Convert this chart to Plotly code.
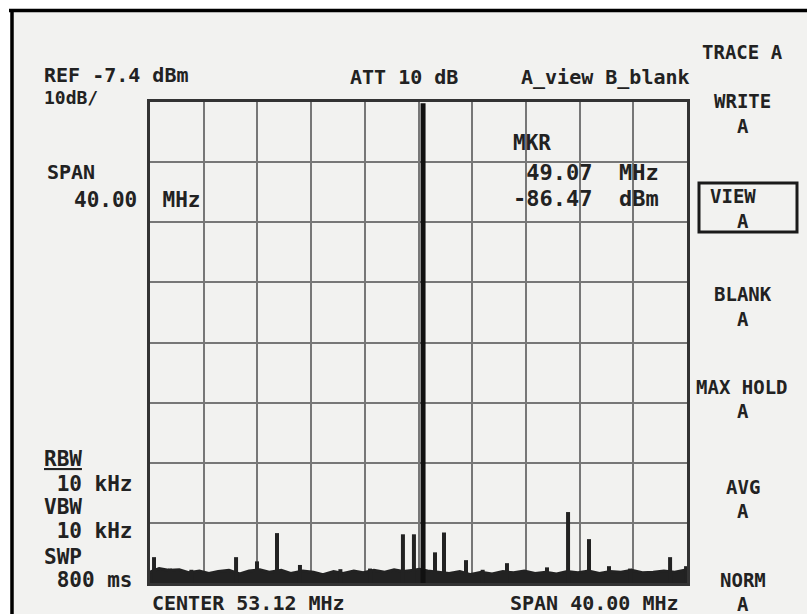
import plotly.graph_objects as go

# ---------------- data ----------------
REF_DBM = -7.4
DB_PER_DIV = 10
N_VDIV = 8
CENTER_MHZ = 53.12
SPAN_MHZ = 40.0

floor_mhz = [33.12, 33.8, 34.6, 35.3, 36.0, 36.8, 37.5, 38.2, 39.0, 39.8, 40.5, 41.3, 42.0,
             42.9, 43.6, 44.5, 45.3, 46.0, 46.8, 47.5, 48.3, 49.0, 49.8, 50.6, 51.3, 52.0,
             52.6, 53.2, 53.8, 54.6, 55.4, 56.2, 57.0, 57.8, 58.6, 59.4, 60.2, 61.0, 61.8,
             62.6, 63.4, 64.2, 65.0, 65.8, 66.6, 67.4, 68.2, 69.0, 69.8, 70.6, 71.4, 72.2, 73.12]
floor_dbm = [-85.6, -85.0, -85.3, -85.2, -85.7, -85.4, -85.8, -85.5, -85.3, -85.9, -85.4, -85.2,
             -85.6, -85.3, -85.8, -85.4, -85.6, -86.0, -85.5, -85.8, -85.4, -85.7, -85.3, -85.6,
             -85.2, -85.5, -85.3, -85.1, -85.4, -85.6, -85.8, -85.5, -86.0, -85.6, -85.9, -85.5,
             -85.7, -85.4, -85.8, -85.6, -85.9, -85.5, -85.7, -85.4, -85.8, -85.5, -85.6, -85.3,
             -85.7, -85.6, -85.4, -85.6, -85.2]

spur_mhz = [33.42, 34.61, 36.2, 39.53, 41.09, 42.58, 44.29, 47.3, 49.51, 51.96, 52.78,
            54.35, 55.02, 56.66, 57.9, 59.71, 62.69, 64.26, 65.82, 67.31, 68.88, 71.86, 73.05]
spur_dbm = [-83.1, -85.0, -85.2, -83.1, -83.8, -79.1, -84.4, -85.1, -85.0, -79.3, -79.3,
            -82.3, -79.0, -83.6, -85.2, -84.1, -84.8, -75.6, -80.1, -84.6, -85.0, -83.1, -84.6]

carrier_mhz = [53.46]
carrier_dbm = [-7.6]

# ---------------- geometry helpers (layout only) ----------------
W, H = 807, 614
L, R, T, B = 150, 687, 102, 583
BOTTOM = REF_DBM - DB_PER_DIV * N_VDIV
F0, F1 = CENTER_MHZ - SPAN_MHZ / 2, CENTER_MHZ + SPAN_MHZ / 2


def px(x):
    return (x - L) / (R - L)


def py(y):
    return (B - y) / (B - T)


INK = "#222222"
BG = "#f2f2f0"
FONT = "DejaVu Sans Mono"

fig = go.Figure()

# noise floor band filled down to the bottom graticule
fig.add_trace(go.Scatter(x=floor_mhz, y=[BOTTOM] * len(floor_mhz), mode="lines",
                         line=dict(width=0, color=INK), hoverinfo="skip", showlegend=False))
fig.add_trace(go.Scatter(x=floor_mhz, y=floor_dbm, mode="lines", fill="tonexty",
                         fillcolor=INK, line=dict(width=3, color=INK), showlegend=False))

# spurs as vertical strokes
sx, sy = [], []
for f, v in zip(spur_mhz, spur_dbm):
    sx += [f, f, None]
    sy += [BOTTOM, v, None]
fig.add_trace(go.Scatter(x=sx, y=sy, mode="lines", line=dict(width=4, color=INK),
                         showlegend=False))

cx, cy = [], []
for f, v in zip(carrier_mhz, carrier_dbm):
    cx += [f, f, None]
    cy += [BOTTOM, v, None]
fig.add_trace(go.Scatter(x=cx, y=cy, mode="lines", line=dict(width=5, color="#111111"),
                         showlegend=False))

fig.update_xaxes(range=[F0, F1], tick0=F0, dtick=SPAN_MHZ / 10, showticklabels=False,
                 ticks="", showgrid=True, gridcolor="#777777", gridwidth=2,
                 showline=True, mirror=True, linecolor="#333333", linewidth=2.5, zeroline=False)
fig.update_yaxes(range=[BOTTOM, REF_DBM], tick0=REF_DBM, dtick=DB_PER_DIV, showticklabels=False,
                 ticks="", showgrid=True, gridcolor="#777777", gridwidth=2,
                 showline=True, mirror=True, linecolor="#333333", linewidth=2.5, zeroline=False)

shapes = [
    # screen background inside the photo frame
    dict(type="rect", xref="paper", yref="paper", x0=px(10), x1=px(W + 5), y0=py(H + 5), y1=py(10),
         fillcolor=BG, line=dict(width=0), layer="below"),
    # frame lines (top and left)
    dict(type="line", xref="paper", yref="paper", x0=px(9), x1=px(W + 5), y0=py(10.5), y1=py(10.5),
         line=dict(color="#000000", width=3.5)),
    dict(type="line", xref="paper", yref="paper", x0=px(12), x1=px(12), y0=py(9), y1=py(H + 5),
         line=dict(color="#000000", width=3.5)),
    # blanked graticule region behind the marker readout
    dict(type="rect", xref="paper", yref="paper", x0=px(405), x1=px(683), y0=py(216), y1=py(128),
         fillcolor=BG, line=dict(width=0), layer="between"),
    # soft-key box around VIEW A
    dict(type="rect", xref="paper", yref="paper", x0=px(699), x1=px(797), y0=py(232), y1=py(183),
         fillcolor="rgba(0,0,0,0)", line=dict(color="#1a1a1a", width=3)),
]

texts = [
    ("REF -7.4 dBm", 42, 75, 20),
    ("10dB/", 42, 97, 18),
    ("ATT 10 dB", 348, 77, 20),
    ("A_view B_blank", 519, 77, 20),
    ("SPAN", 45, 172, 20),
    ("40.00  MHz", 72, 200, 21),
    ("MKR", 511, 143, 21),
    (" 49.07  MHz", 511, 172, 22),
    ("-86.47  dBm", 511, 199, 22),
    ("<u>RBW</u>", 42, 459, 21),
    (" 10 kHz", 42, 484, 21),
    ("VBW", 42, 507, 21),
    (" 10 kHz", 42, 531, 21),
    ("SWP", 42, 557, 21),
    (" 800 ms", 42, 580, 21),
    ("CENTER 53.12 MHz", 150, 603, 20),
    ("SPAN 40.00 MHz", 508, 603, 20),
]

menu = [
    ("TRACE A", 743, 52),
    ("WRITE", 743, 101),
    ("A", 743, 126),
    ("VIEW", 733, 196),
    ("A", 743, 221),
    ("BLANK", 743, 294),
    ("A", 743, 319),
    ("MAX HOLD", 742, 387),
    ("A", 743, 411),
    ("AVG", 743, 487),
    ("A", 743, 511),
    ("NORM", 743, 580),
    ("A", 743, 604),
]

ann = []
for t, x, y, s in texts:
    ann.append(dict(text=t, x=px(x), y=py(y), xref="paper", yref="paper", xanchor="left",
                    yanchor="middle", showarrow=False,
                    font=dict(family=FONT, size=s, color=INK, weight="bold")))
for t, x, y in menu:
    ann.append(dict(text=t, x=px(x), y=py(y), xref="paper", yref="paper", xanchor="center",
                    yanchor="middle", showarrow=False,
                    font=dict(family=FONT, size=19, color=INK, weight="bold")))

fig.update_layout(width=W, height=H, margin=dict(l=L, r=W - R, t=T, b=H - B),
                  paper_bgcolor="#ffffff", plot_bgcolor=BG, shapes=shapes, annotations=ann,
                  showlegend=False)

fig.write_html("out.html", config={"displayModeBar": False},
               post_script="document.body.style.margin='0';document.body.style.overflow='hidden';")
